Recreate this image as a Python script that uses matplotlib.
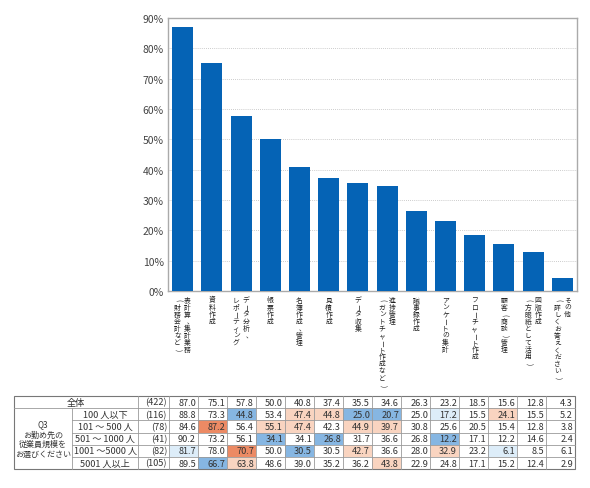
import numpy as np
import matplotlib
matplotlib.use("Agg")
import matplotlib.pyplot as plt
from matplotlib.patches import Rectangle

plt.rcParams['font.family'] = ['Noto Sans CJK JP', 'DejaVu Sans']

# data
categories = [
    ["表計算、集計業務", "(財務会計など)"],
    ["資料作成"],
    ["データ分析、", "レポーティング"],
    ["帳票作成"],
    ["名簿作成、管理"],
    ["見積作成"],
    ["データ収集"],
    ["進捗管理", "(ガントチャート作成など)"],
    ["議事録作成"],
    ["アンケートの集計"],
    ["フローチャート作成"],
    ["顧客(商談)管理"],
    ["図版作成", "(方眼紙として活用)"],
    ["その他", "(詳しくお答えください)"],
]
overall = [87.0, 75.1, 57.8, 50.0, 40.8, 37.4, 35.5, 34.6, 26.3, 23.2, 18.5, 15.6, 12.8, 4.3]
overall_n = "(422)"

row_labels = ["100 人以下", "101 ～ 500 人", "501 ～ 1000 人", "1001 ～5000 人", "5001 人以上"]
row_n = ["(116)", "(78)", "(41)", "(82)", "(105)"]
row_values = [
    [88.8, 73.3, 44.8, 53.4, 47.4, 44.8, 25.0, 20.7, 25.0, 17.2, 15.5, 24.1, 15.5, 5.2],
    [84.6, 87.2, 56.4, 55.1, 47.4, 42.3, 44.9, 39.7, 30.8, 25.6, 20.5, 15.4, 12.8, 3.8],
    [90.2, 73.2, 56.1, 34.1, 34.1, 26.8, 31.7, 36.6, 26.8, 12.2, 17.1, 12.2, 14.6, 2.4],
    [81.7, 78.0, 70.7, 50.0, 30.5, 30.5, 42.7, 36.6, 28.0, 32.9, 23.2, 6.1, 8.5, 6.1],
    [89.5, 66.7, 63.8, 48.6, 39.0, 35.2, 36.2, 43.8, 22.9, 24.8, 17.1, 15.2, 12.4, 2.9],
]
# cell highlight: O strong high, o high, B strong low, b low
row_marks = [
    "..B.ooBB.b.o..",
    ".O.oo.oo......",
    "...B.B...B....",
    "b.O.B.o..o.b..",
    ".Bo....o......",
]
group_label = "Q3\nお勤め先の\n従業員規模を\nお選びください"

mark_colors = {"O": "#ec8a64", "o": "#f9d4c0", "B": "#86b6e2", "b": "#ddedf9"}
bar_color = "#0563b5"
W, H = 590, 489

fig = plt.figure(figsize=(W / 100, H / 100), dpi=100)

# bar chart
ax = fig.add_axes([168 / W, 1 - 292 / H, 409 / W, 273 / H])
x = np.arange(len(overall))
ax.bar(x, overall, width=0.72, color=bar_color, zorder=3)
ax.set_xlim(-0.5, len(overall) - 0.5)
ax.set_ylim(0, 90)
ax.set_yticks(range(0, 91, 10))
ax.set_yticklabels([f"{v}%" for v in range(0, 91, 10)], fontsize=7.5, color="#444444")
ax.set_xticks([])
ax.tick_params(axis="y", length=0, pad=3)
ax.yaxis.grid(True, linestyle=(0, (1, 1.5)), color="#bbbbbb", linewidth=0.6, zorder=0)
for s in ax.spines.values():
    s.set_color("#aaaaaa")
    s.set_linewidth(1)

# vertical (tategaki) category labels
rot_chars = set("ー()～")
for i, cols in enumerate(categories):
    ncol = len(cols)
    for c, col in enumerate(cols):
        dx = (ncol - 1) / 2 * 10 - c * 10
        for k, ch in enumerate(col):
            r = -90 if ch in rot_chars else 0
            ox = 2.0 if ch == "、" else 0
            ax.annotate(ch, xy=(i, 0), xycoords=("data", "axes fraction"),
                        xytext=(dx * 0.72 + ox, -(8.5 + k * 7.1) * 0.72),
                        textcoords="offset points", ha="center", va="center",
                        fontsize=4.9, rotation=r, color="#222222",
                        annotation_clip=False)

# table
tb = fig.add_axes([0, 0, 1, 1])
tb.set_xlim(0, W)
tb.set_ylim(H, 0)
tb.axis("off")

x0, x1, x2, x3 = 14, 72, 138, 169
cw = 29.0
top, rh = 397, 12.2
ncols = len(overall)
right = x3 + cw * ncols
nrows = len(row_values) + 1
bottom = top + rh * nrows
line_c = "#9a9a9a"
fs = 6.6
txt_c = "#333333"

all_vals = [overall] + row_values
all_marks = ["." * ncols] + row_marks
for r in range(nrows):
    yc = top + rh * (r + 0.5)
    for c in range(ncols):
        m = all_marks[r][c]
        if m != ".":
            tb.add_patch(Rectangle((x3 + cw * c, top + rh * r), cw, rh,
                                   facecolor=mark_colors[m], edgecolor="none"))
        tb.text(x3 + cw * (c + 1) - 2, yc, f"{all_vals[r][c]:.1f}", ha="right",
                va="center", fontsize=fs, color=txt_c)
    n = overall_n if r == 0 else row_n[r - 1]
    tb.text(x3 - 2, yc, n, ha="right", va="center", fontsize=fs, color=txt_c)
    if r == 0:
        tb.text((x0 + x2) / 2, yc, "全体", ha="center", va="center", fontsize=fs, color=txt_c)
    else:
        tb.text((x1 + x2) / 2, yc, row_labels[r - 1], ha="center", va="center",
                fontsize=fs, color=txt_c)

tb.text((x0 + x1) / 2, top + rh * 3.5, group_label, ha="center", va="center",
        fontsize=5.8, color=txt_c, linespacing=1.1)

# grid lines
for r in range(1, nrows):
    xs = x0 if r == 1 else x1
    tb.plot([xs, right], [top + rh * r] * 2, color=line_c, lw=0.6)
tb.plot([x1, x1], [top + rh, bottom], color=line_c, lw=0.6)
for xv in [x2, x3] + [x3 + cw * c for c in range(1, ncols)]:
    tb.plot([xv, xv], [top, bottom], color=line_c, lw=0.6)
tb.add_patch(Rectangle((x0, top), right - x0, bottom - top, facecolor="none",
                       edgecolor="#777777", lw=0.8))

fig.savefig("out.png", dpi=100)
